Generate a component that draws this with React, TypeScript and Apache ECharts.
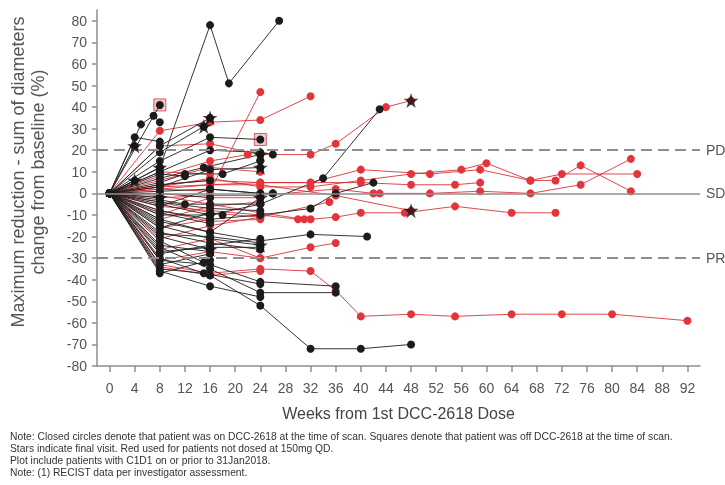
import React, { useEffect, useRef } from "react";
import * as echarts from "echarts";

// ---- Data (weeks, % change from baseline) ----
const xTicks = [0, 4, 8, 12, 16, 20, 24, 28, 32, 36, 40, 44, 48, 52, 56, 60, 64, 68, 72, 76, 80, 84, 88, 92];
const yTicks = [-80, -70, -60, -50, -40, -30, -20, -10, 0, 10, 20, 30, 40, 50, 60, 70, 80];

// Patients dosed at 150mg QD (black)
const blackTraces: number[][][] = [
  [[0, 0], [8, 12], [16, 78], [19, 51], [27, 80]],
  [[0, 0], [8, 41]],
  [[0, 0], [5, 32], [7, 36], [8, 33]],
  [[0, 0], [4, 26], [8, 24]],
  [[0, 0], [4, 22]],
  [[0, 0], [4, 6]],
  [[0, 0], [8, 22], [16, 35]],
  [[0, 0], [8, 19], [15, 31]],
  [[0, 0], [8, 15], [16, 26], [24, 25]],
  [[0, 0], [8, 12]],
  [[0, 0], [8, 10], [16, 20], [24, 19], [26, 18]],
  [[0, 0], [8, 5], [12, 9], [18, 9], [24, 15]],
  [[0, 0], [8, 3], [16, 11], [24, 12]],
  [[0, 0], [8, 7], [15, 12], [24, 18]],
  [[0, 0], [8, 1], [16, 2], [24, 0], [26, 0]],
  [[0, 0], [8, -2]],
  [[0, 0], [8, -5], [16, -10], [24, -5], [34, 7], [43, 39]],
  [[0, 0], [8, -8], [16, -12], [24, -10], [32, -7], [36, 0], [42, 5]],
  [[0, 0], [8, -12], [16, -18], [24, -22], [32, -19], [41, -20]],
  [[0, 0], [8, -15], [16, -21], [24, -24]],
  [[0, 0], [8, -18], [16, -23], [24, -26]],
  [[0, 0], [8, -20], [16, -26]],
  [[0, 0], [8, -22], [15, -32], [24, -41], [36, -43]],
  [[0, 0], [8, -25], [16, -35], [24, -46], [36, -46]],
  [[0, 0], [8, -30], [16, -38], [24, -52], [32, -72], [40, -72], [48, -70]],
  [[0, 0], [8, -36], [16, -43], [24, -48]],
  [[0, 0], [8, -35], [15, -37], [24, -42]],
  [[0, 0], [8, -28], [16, -24], [24, -21]],
  [[0, 0], [8, -16], [16, -9], [18, -10]],
  [[0, 0], [8, -13], [16, -18], [24, -2]],
  [[0, 0], [8, -3], [12, -5], [16, -5], [24, -5]],
  [[0, 0], [8, 0], [16, -2]],
  [[0, 0], [8, -33], [16, -28]],
  [[0, 0], [8, -6], [16, 2], [24, 0], [26, 0]],
  [[0, 0], [8, -10], [16, -10]],
  [[0, 0], [8, -37], [16, -31]],
  [[0, 0], [8, -27], [16, -25], [24, -25]],
  [[0, 0], [8, -9], [16, -14]],
  [[0, 0], [8, -19], [16, -20], [24, -23]],
  [[0, 0], [8, -24], [16, -27]],
  [[0, 0], [8, -31], [16, -33]],
  [[0, 0], [8, 4], [16, 6]],
  [[0, 0], [8, -14]],
  [[0, 0], [8, -4], [16, -7], [24, -8]],
  [[0, 0], [8, 9], [12, 8]],
];

// Patients not dosed at 150mg QD (red)
const redTraces: number[][][] = [
  [[0, 0], [8, -33], [16, -37], [24, -35], [32, -36], [36, -45], [40, -57], [48, -56], [55, -57], [64, -56], [72, -56], [80, -56], [92, -59]],
  [[0, 0], [8, -6], [16, -8], [24, -10], [30, -12], [32, -12], [36, -11], [40, -9], [47, -9], [55, -6], [64, -9], [71, -9]],
  [[0, 0], [8, 3], [16, 4], [24, 4], [36, -1], [48, -8]],
  [[0, 0], [8, -31], [16, -27], [24, -30], [32, -25], [36, -23]],
  [[0, 0], [8, -21], [16, -15], [24, -11]],
  [[0, 0], [8, 29], [16, 33], [24, 34], [32, 45]],
  [[0, 0], [8, 2], [16, 1], [24, 47]],
  [[0, 0], [8, 22], [16, 23], [24, 18], [32, 18], [36, 23], [44, 40], [48, 43]],
  [[0, 0], [8, 8], [16, 15], [22, 18]],
  [[0, 0], [8, 2], [16, 4], [24, 5], [32, 5], [40, 11], [51, 9], [59, 11], [67, 6], [72, 9], [84, 9]],
  [[0, 0], [8, 3], [16, 7], [24, 3], [32, 3], [40, 6], [48, 9], [56, 11], [60, 14], [67, 6], [71, 6], [75, 13], [83, 1]],
  [[0, 0], [8, -2], [16, -1], [24, -1], [36, 2], [42, 0], [43, 0], [51, 0], [59, 1], [67, 0], [75, 4], [83, 16]],
  [[0, 0], [8, 4], [16, 6], [24, 5], [32, 5], [40, 5], [48, 4], [55, 4], [59, 5]],
  [[0, 0], [8, -1], [16, -5], [24, -9], [31, -12]],
  [[0, 0], [8, -4], [16, -9], [24, -11], [35, -4]],
  [[0, 0], [8, -10], [16, -2], [24, -2]],
  [[0, 0], [8, 6], [16, 12], [24, 10]],
  [[0, 0], [8, -26], [16, -21], [24, -30]],
  [[0, 0], [8, -34], [16, -38], [24, -36]],
  [[0, 0], [8, -12], [16, -6], [24, -4]],
  [[0, 0], [8, -16], [16, -12]],
  [[0, 0], [8, -8], [16, -13], [24, -12]],
  [[0, 0], [8, 10], [16, 9]],
];

// Final visits (stars) and off-drug scans (squares)
const starPoints = [
  [4, 22], [4, 6], [16, 35], [15, 31], [8, 12], [8, -2], [24, 12], [24, 18],
  [24, -24], [16, -26], [24, -2], [16, -10], [48, -8], [48, 43],
];
const squarePoints = [[8, 41], [24, 25]];

// Response thresholds
const thresholds = [
  { label: "PD", value: 20, dashed: true },
  { label: "SD", value: 0, dashed: false },
  { label: "PR", value: -30, dashed: true },
];

const yTitle = "Maximum reduction - sum of diameters\nchange from baseline (%)";
const xTitle = "Weeks from 1st DCC-2618 Dose";
const notes = [
  "Note: Closed circles denote that patient was on DCC-2618 at the time of scan. Squares denote that patient was off DCC-2618 at the time of scan.",
  "Stars indicate final visit. Red used for patients not dosed at 150mg QD.",
  "Plot include patients with C1D1 on or prior to 31Jan2018.",
  "Note: (1) RECIST data per investigator assessment.",
];

const FONT = "'Liberation Sans', Arial, Helvetica, sans-serif";
const STAR = "path://M50,0L61.8,35.3L99,35.3L68.9,57.1L80.3,92.7L50,70.6L19.7,92.7L31.1,57.1L1,35.3L38.2,35.3Z";
const BLACK = "#1c1c1c";
const RED = "#e2353b";
const GRAY = "#8e8e8e";

export default function App() {
  const ref = useRef<HTMLDivElement>(null);

  useEffect(() => {
    if (!ref.current) return;
    const chart = echarts.init(ref.current, null, { renderer: "svg" });

    const mkLine = (trace: number[][], color: string, lineColor: string) => ({
      type: "line",
      data: trace,
      symbol: "circle",
      symbolSize: 8,
      showSymbol: true,
      lineStyle: { color: lineColor, width: 1 },
      itemStyle: { color },
      z: 3,
      silent: true,
    });

    const series: any[] = [];
    series.push({
      type: "scatter",
      data: squarePoints,
      symbol: "rect",
      symbolSize: 12,
      itemStyle: { color: "rgba(232,140,150,0.6)", borderColor: "#d23a4a", borderWidth: 1 },
      z: 1,
      silent: true,
    });
    series.push({
      type: "line",
      data: [],
      markLine: {
        silent: true,
        symbol: "none",
        data: thresholds.map((t) => ({
          yAxis: t.value,
          lineStyle: { color: GRAY, width: t.dashed ? 2 : 1.5, type: t.dashed ? [11, 6] : "solid" },
          label: { formatter: t.label },
        })),
        label: { position: "end", color: "#555", fontSize: 14, fontFamily: FONT, distance: 6 },
      },
      z: 1,
    });
    redTraces.forEach((t) => series.push(mkLine(t, RED, "rgba(216,40,46,0.85)")));
    blackTraces.forEach((t) => series.push(mkLine(t, BLACK, "rgba(30,30,30,0.9)")));
    series.push({
      type: "scatter",
      data: starPoints,
      symbol: STAR,
      symbolSize: 15,
      itemStyle: { color: "#151515" },
      z: 5,
      silent: true,
    });

    chart.setOption({
      animation: false,
      grid: { left: 97, right: 25, top: 10, bottom: 119 },
      xAxis: {
        type: "value",
        min: -2,
        max: 94,
        name: xTitle,
        nameLocation: "middle",
        nameGap: 39,
        nameTextStyle: { color: "#444", fontSize: 16, fontFamily: FONT },
        axisLine: { show: true, onZero: false, lineStyle: { color: GRAY, width: 1.5 } },
        axisTick: { show: true, customValues: xTicks, length: 6, lineStyle: { color: GRAY, width: 1.5 } },
        axisLabel: { customValues: xTicks, color: "#555", fontSize: 14, fontFamily: FONT, margin: 15 },
        splitLine: { show: false },
      },
      yAxis: {
        type: "value",
        min: -80,
        max: 85,
        axisLine: { show: true, onZero: false, lineStyle: { color: GRAY, width: 1.5 } },
        axisTick: { show: true, customValues: yTicks, length: 5, lineStyle: { color: GRAY, width: 1.5 } },
        axisLabel: { customValues: yTicks, color: "#555", fontSize: 14, fontFamily: FONT, margin: 10 },
        splitLine: { show: false },
      },
      graphic: [
        {
          type: "text",
          x: 28,
          y: 172,
          rotation: Math.PI / 2,
          style: {
            text: yTitle,
            fill: "#555",
            font: `18px ${FONT}`,
            lineHeight: 20,
            align: "center",
            verticalAlign: "middle",
          },
          silent: true,
        },
        ...notes.map((n, i) => ({
          type: "text",
          left: 10,
          top: 431 + i * 12,
          style: { text: n, fill: "#333", font: `10.3px ${FONT}` },
          silent: true,
        })),
      ],
      series,
    });

    return () => chart.dispose();
  }, []);

  return (
    <div
      ref={ref}
      style={{ position: "fixed", left: 0, top: 0, width: 725, height: 485 }}
    />
  );
}
